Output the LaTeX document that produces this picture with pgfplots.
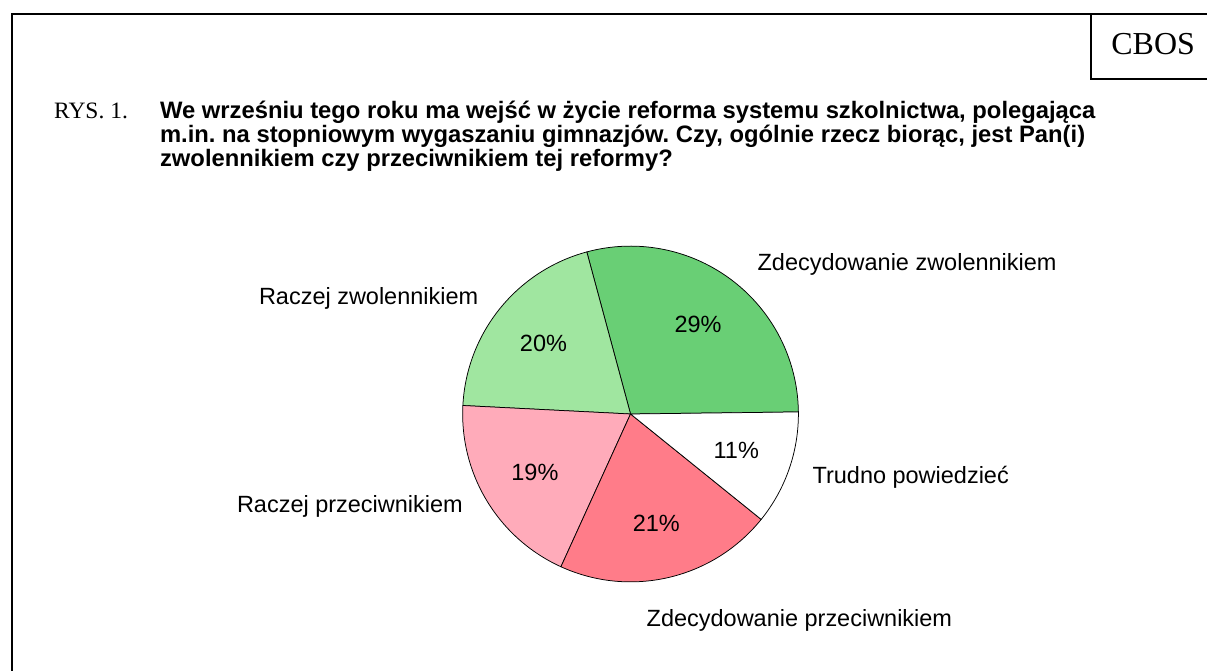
\documentclass[border=0pt]{standalone}
\usepackage{fontspec}
\setmainfont{Liberation Sans}
\newfontfamily\timesf{Liberation Serif}
\usepackage{pgfplots}
\usepackage{pgfplotstable}
\pgfplotsset{compat=1.18}
\definecolor{zz}{RGB}{105,207,117}
\definecolor{rz}{RGB}{160,230,160}
\definecolor{rp}{RGB}{255,171,186}
\definecolor{zp}{RGB}{255,124,137}
\definecolor{tp}{RGB}{255,255,255}
\pgfplotstableread{
value color
29 zz
20 rz
19 rp
21 zp
11 tp
}\piedata
\newcommand\lblfont{\fontsize{23.5}{24}\selectfont}
\frenchspacing
\begin{document}
\frenchspacing
\begin{tikzpicture}
\begin{axis}[x=1pt, y=1pt, xmin=0, xmax=1208, ymin=0, ymax=671,
  hide axis, scale only axis, clip=false]
\path (axis cs:0,0) rectangle (axis cs:1208,671);
% frame
\draw[line width=1.8pt] (axis cs:12,0) -- (axis cs:12,657) -- (axis cs:1208,657);
\draw[line width=1.8pt] (axis cs:1092,657) -- (axis cs:1092,592) -- (axis cs:1208,592);
\node[anchor=base, inner sep=0, font=\timesf\fontsize{32}{34}\selectfont] at (axis cs:1154,616) {CBOS};
% title
\node[anchor=base west, inner sep=0, font=\timesf\fontsize{23.5}{24}\selectfont] at (axis cs:54,552) {RYS. 1.};
\node[anchor=base west, inner sep=0, font=\bfseries\fontsize{23.8}{24}\selectfont] at (axis cs:160,552) {We wrześniu tego roku ma wejść w życie reforma systemu szkolnictwa, polegająca};
\node[anchor=base west, inner sep=0, font=\bfseries\fontsize{23.8}{24}\selectfont] at (axis cs:160,528) {m.in.\ na stopniowym wygaszaniu gimnazjów.\ Czy, ogólnie rzecz biorąc, jest Pan(i)};
\node[anchor=base west, inner sep=0, font=\bfseries\fontsize{23.8}{24}\selectfont] at (axis cs:160,504) {zwolennikiem czy przeciwnikiem tej reformy?};
% pie
\def\cum{0.7}
\pgfplotsforeachungrouped \i in {0,...,4}{%
  \pgfplotstablegetelem{\i}{value}\of\piedata \let\v\pgfplotsretval
  \pgfplotstablegetelem{\i}{color}\of\piedata \let\c\pgfplotsretval
  \pgfmathsetmacro\a{\cum}%
  \pgfmathsetmacro\b{\cum+3.6*\v}%
  \pgfmathsetmacro\m{(\a+\b)/2}%
  \pgfmathsetmacro\lx{631+112*cos(\m)}%
  \pgfmathsetmacro\ly{256.7+112*sin(\m)}%
  \edef\slice{\noexpand\filldraw[fill=\c, draw=black, line width=0.75pt, line join=round] (axis cs:631,256.7) -- ++(\a:168pt) arc[start angle=\a, end angle=\b, radius=168pt] -- cycle;}%
  \slice
  \edef\lbl{\noexpand\node[font=\noexpand\lblfont, inner sep=0] at (axis cs:\lx,\ly) {\v\noexpand\%};}%
  \lbl
  \global\let\cum\b
}
% outer labels
\node[anchor=base west, inner sep=0, font=\lblfont] at (axis cs:758,400) {Zdecydowanie zwolennikiem};
\node[anchor=base west, inner sep=0, font=\lblfont] at (axis cs:259,366) {Raczej zwolennikiem};
\node[anchor=base west, inner sep=0, font=\lblfont] at (axis cs:813,187) {Trudno powiedzieć};
\node[anchor=base west, inner sep=0, font=\lblfont] at (axis cs:237,158) {Raczej przeciwnikiem};
\node[anchor=base west, inner sep=0, font=\lblfont] at (axis cs:647,44) {Zdecydowanie przeciwnikiem};
\end{axis}
\end{tikzpicture}
\end{document}
